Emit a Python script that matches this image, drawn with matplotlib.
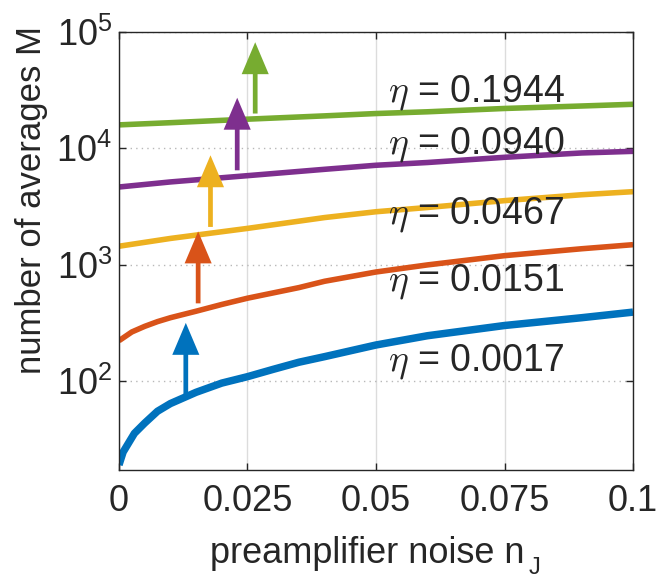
import numpy as np
import matplotlib.pyplot as plt

plt.rcParams['font.family'] = ['Liberation Sans', 'DejaVu Sans']
plt.rcParams['mathtext.fontset'] = 'cm'

# noise values (x) and number of averages M
x_blue = [0, 0.0008, 0.0018, 0.003, 0.005, 0.0075, 0.01, 0.015, 0.02, 0.025,
          0.03, 0.035, 0.04, 0.05, 0.06, 0.075, 0.09, 0.1]
m_blue = [19, 24.5, 29, 35.5, 43.5, 55, 64, 80, 96, 109,
          126, 145, 162, 204, 245, 300, 350, 391]

x_orange = [0, 0.0025, 0.005, 0.0075, 0.01, 0.015, 0.02, 0.025, 0.035, 0.04,
            0.05, 0.06, 0.075, 0.09, 0.1]
m_orange = [222, 264, 295, 324, 350, 398, 455, 515, 635, 720,
            865, 995, 1195, 1370, 1485]

x_rest = [0, 0.01, 0.025, 0.04, 0.05, 0.06, 0.075, 0.09, 0.1]
m_yellow = [1440, 1680, 2050, 2540, 2850, 3100, 3550, 3990, 4240]
m_purple = [4650, 5140, 5820, 6600, 7150, 7550, 8370, 9120, 9420]
m_green = [15900, 16600, 17800, 19000, 19900, 20600, 22000, 23100, 23900]

eta = ['0.0017', '0.0151', '0.0467', '0.0940', '0.1944']

# arrows: x position, tail and tip (in M)
arrow_x = [0.0130, 0.0154, 0.0178, 0.0230, 0.0265]
arrow_tail = [76, 465, 2110, 6470, 19900]
arrow_tip = [316, 1930, 8710, 27200, 81600]

colors = ['#0072BD', '#D95319', '#EDB120', '#7E2F8E', '#77AC30']
txt = '#262626'

fig = plt.figure(figsize=(6.57, 5.81), dpi=100)
ax = fig.add_axes([0.1811, 0.1911, 0.7824, 0.7539])
ax.set_yscale('log')

ax.plot(x_blue, m_blue, color=colors[0], lw=5.4, solid_capstyle='butt')
ax.plot(x_orange, m_orange, color=colors[1], lw=4.0, solid_capstyle='butt')
for m, c in zip([m_yellow, m_purple, m_green], colors[2:]):
    ax.plot(x_rest, m, color=c, lw=4.0, solid_capstyle='butt')

for xa, t0, t1, c in zip(arrow_x, arrow_tail, arrow_tip, colors):
    ax.annotate('', xy=(xa, t1), xytext=(xa, t0),
                arrowprops=dict(arrowstyle='simple,head_length=2.3,head_width=1.95,tail_width=0.34',
                                mutation_scale=10, color=c, lw=0,
                                shrinkA=0, shrinkB=0))

# eta labels (baseline positions)
label_y = [122.6, 605, 2270, 9070, 25200]
for e, ly in zip(eta, label_y):
    ax.text(0.0523, ly, r'$\eta$ = ' + e, fontsize=27, color=txt, va='baseline')

ax.set_xlim(0, 0.1)
ax.set_ylim(17.2, 1e5)
ax.set_xticks([0, 0.025, 0.05, 0.075, 0.1])
ax.set_xticklabels(['0', '0.025', '0.05', '0.075', '0.1'])
ax.set_yticks([1e2, 1e3, 1e4, 1e5])
ax.set_yticklabels([r'$\mathregular{10^{%d}}$' % k for k in [2, 3, 4, 5]])
ax.minorticks_off()
ax.tick_params(direction='in', length=5, width=1, top=True, right=True,
               labelsize=26, colors=txt)
ax.tick_params(axis='x', pad=10)
ax.tick_params(axis='y', pad=5)

ax.xaxis.grid(True, color='#dcdcdc', lw=1, ls='-')
ax.yaxis.grid(True, color='#b8b8b8', lw=1, ls=(0, (1, 3)))
ax.set_axisbelow(True)
for s in ax.spines.values():
    s.set_color(txt)
    s.set_linewidth(1)

ax.set_ylabel('number of averages M', fontsize=25, color=txt, va='center')
ax.yaxis.set_label_coords(-0.171, 0.616)
ax.set_xlabel('preamplifier noise n', fontsize=26, color=txt, va='baseline')
ax.xaxis.set_label_coords(0.4835, -0.2123)
# subscript J sits low, next to the label
ax.annotate('J', xy=(1, 0), xycoords=ax.xaxis.label, xytext=(4, -8),
            textcoords='offset pixels', fontsize=17, color=txt, va='bottom')

fig.savefig('out.png', dpi=100)
